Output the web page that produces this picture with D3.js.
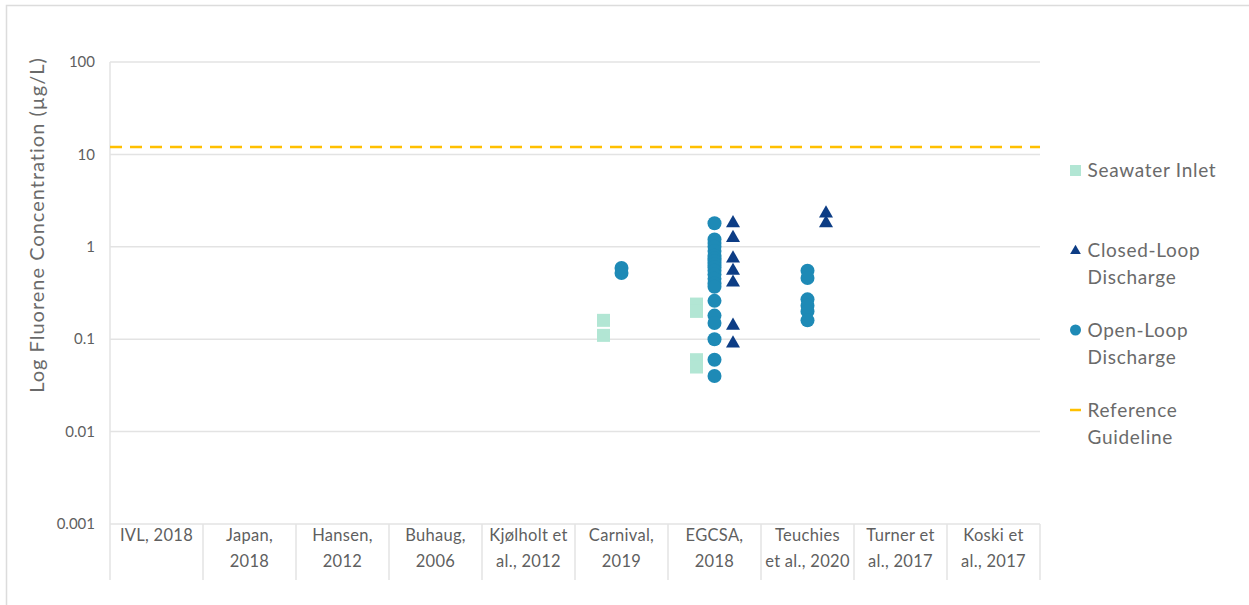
<!DOCTYPE html>
<html>
<head>
<meta charset="utf-8">
<script src="https://cdn.jsdelivr.net/npm/d3@7"></script>
<style>
  html, body { margin: 0; padding: 0; background: #fff; }
  svg { display: block; font-family: Lato, "Noto Sans", sans-serif; }
</style>
</head>
<body>
<svg id="chart"></svg>
<script>
// categories (studies) and their two-line labels
const categories = ["IVL, 2018", "Japan, 2018", "Hansen, 2012", "Buhaug, 2006", "Kjølholt et al., 2012",
  "Carnival, 2019", "EGCSA, 2018", "Teuchies et al., 2020", "Turner et al., 2017", "Koski et al., 2017"];
const categoryLabels = [["IVL, 2018"], ["Japan,", "2018"], ["Hansen,", "2012"], ["Buhaug,", "2006"],
  ["Kjølholt et", "al., 2012"], ["Carnival,", "2019"], ["EGCSA,", "2018"], ["Teuchies", "et al., 2020"],
  ["Turner et", "al., 2017"], ["Koski et", "al., 2017"]];

const yTicks = [0.001, 0.01, 0.1, 1, 10, 100];
const yTickLabels = ["0.001", "0.01", "0.1", "1", "10", "100"];

// measured values (µg/L)
const seawaterInlet = [
  ["Carnival, 2019", 0.16], ["Carnival, 2019", 0.11],
  ["EGCSA, 2018", 0.24], ["EGCSA, 2018", 0.2], ["EGCSA, 2018", 0.06], ["EGCSA, 2018", 0.05]
];
const closedLoop = [
  ["EGCSA, 2018", 1.8], ["EGCSA, 2018", 1.25], ["EGCSA, 2018", 0.75], ["EGCSA, 2018", 0.55],
  ["EGCSA, 2018", 0.41], ["EGCSA, 2018", 0.14], ["EGCSA, 2018", 0.09],
  ["Teuchies et al., 2020", 2.3], ["Teuchies et al., 2020", 1.8]
];
const openLoop = [
  ["Carnival, 2019", 0.59], ["Carnival, 2019", 0.52],
  ["EGCSA, 2018", 1.8], ["EGCSA, 2018", 1.2], ["EGCSA, 2018", 1.1], ["EGCSA, 2018", 1.0],
  ["EGCSA, 2018", 0.9], ["EGCSA, 2018", 0.8], ["EGCSA, 2018", 0.75], ["EGCSA, 2018", 0.7],
  ["EGCSA, 2018", 0.65], ["EGCSA, 2018", 0.6], ["EGCSA, 2018", 0.55], ["EGCSA, 2018", 0.5],
  ["EGCSA, 2018", 0.45], ["EGCSA, 2018", 0.4], ["EGCSA, 2018", 0.37], ["EGCSA, 2018", 0.26],
  ["EGCSA, 2018", 0.18], ["EGCSA, 2018", 0.15], ["EGCSA, 2018", 0.1], ["EGCSA, 2018", 0.06],
  ["EGCSA, 2018", 0.04],
  ["Teuchies et al., 2020", 0.55], ["Teuchies et al., 2020", 0.46], ["Teuchies et al., 2020", 0.27],
  ["Teuchies et al., 2020", 0.23], ["Teuchies et al., 2020", 0.2], ["Teuchies et al., 2020", 0.16]
];
const referenceGuideline = 12;

const legendItems = [
  { key: "seawater", lines: ["Seawater Inlet"] },
  { key: "closed", lines: ["Closed-Loop", "Discharge"] },
  { key: "open", lines: ["Open-Loop", "Discharge"] },
  { key: "ref", lines: ["Reference", "Guideline"] }
];

const colors = { seawater: "#b2e6d4", closed: "#0d3d85", open: "#1e8ab6", ref: "#ffc000" };

const width = 1249, height = 605;
const svg = d3.select("#chart").attr("width", width).attr("height", height);

// outer frame
svg.append("rect")
  .attr("x", 6.5).attr("y", 5.5)
  .attr("width", width).attr("height", height)
  .attr("fill", "none").attr("stroke", "#dcdcdc").attr("stroke-width", 1.5);

const x = d3.scaleBand().domain(categories).range([110, 1040]).padding(0);
const y = d3.scaleLog().domain([0.001, 100]).range([524, 62]);

const gridColor = "#e3e3e3";
const textColor = "#5f5f5f";

// horizontal gridlines
svg.append("g").selectAll("line")
  .data(yTicks)
  .join("line")
  .attr("x1", 110).attr("x2", 1040)
  .attr("y1", d => y(d)).attr("y2", d => y(d))
  .attr("stroke", gridColor).attr("stroke-width", 1.5);

// left axis line
svg.append("line")
  .attr("x1", 110).attr("x2", 110)
  .attr("y1", y(100)).attr("y2", 580)
  .attr("stroke", gridColor).attr("stroke-width", 1.5);

// category dividers under the axis
svg.append("g").selectAll("line")
  .data(categories.slice(1).map(c => x(c)).concat([1040]))
  .join("line")
  .attr("x1", d => d).attr("x2", d => d)
  .attr("y1", 524).attr("y2", 580)
  .attr("stroke", gridColor).attr("stroke-width", 1.5);

// y tick labels
svg.append("g").selectAll("text")
  .data(yTicks)
  .join("text")
  .attr("x", 95).attr("y", d => y(d))
  .attr("dy", "0.35em")
  .attr("text-anchor", "end")
  .attr("font-size", 15)
  .attr("fill", textColor)
  .text((d, i) => yTickLabels[i]);

// category labels
const catG = svg.append("g").selectAll("text")
  .data(categories)
  .join("text")
  .attr("text-anchor", "middle")
  .attr("font-size", 16.5)
  .attr("letter-spacing", 0.3)
  .attr("fill", textColor);
catG.selectAll("tspan")
  .data((d, i) => categoryLabels[i].map(l => ({ l, c: d })))
  .join("tspan")
  .attr("x", d => x(d.c) + x.bandwidth() / 2)
  .attr("y", (d, i) => 541 + i * 26)
  .text(d => d.l);

// y axis title
svg.append("text")
  .attr("transform", "translate(44,225) rotate(-90)")
  .attr("text-anchor", "middle")
  .attr("font-size", 20)
  .attr("letter-spacing", 1)
  .attr("fill", "#6a6a6a")
  .text("Log Fluorene Concentration (µg/L)");

// reference guideline
svg.append("line")
  .attr("x1", 110).attr("x2", 1040)
  .attr("y1", y(referenceGuideline)).attr("y2", y(referenceGuideline))
  .attr("stroke", colors.ref).attr("stroke-width", 2.5)
  .attr("stroke-dasharray", "12,8");

const mid = c => x(c) + x.bandwidth() / 2;

// seawater inlet squares
svg.append("g").selectAll("rect")
  .data(seawaterInlet)
  .join("rect")
  .attr("x", d => mid(d[0]) - 18 - 6.5)
  .attr("y", d => y(d[1]) - 6.5)
  .attr("width", 13).attr("height", 13)
  .attr("fill", colors.seawater);

// open loop circles
svg.append("g").selectAll("circle")
  .data(openLoop)
  .join("circle")
  .attr("cx", d => mid(d[0]))
  .attr("cy", d => y(d[1]))
  .attr("r", 7)
  .attr("fill", colors.open);

// closed loop triangles
const tri = d3.symbol().type(d3.symbolTriangle).size(85);
svg.append("g").selectAll("path")
  .data(closedLoop)
  .join("path")
  .attr("d", tri)
  .attr("transform", d => `translate(${mid(d[0]) + 18.5},${y(d[1])})`)
  .attr("fill", colors.closed);

// legend
const legendY = [170, 250, 330, 410];
const lg = svg.append("g").selectAll("g")
  .data(legendItems)
  .join("g")
  .attr("transform", (d, i) => `translate(1075.5,${legendY[i]})`);

lg.each(function (d) {
  const g = d3.select(this);
  if (d.key === "seawater") {
    g.append("rect").attr("x", -5.5).attr("y", -5).attr("width", 11).attr("height", 11).attr("fill", colors.seawater);
  } else if (d.key === "closed") {
    g.append("path").attr("d", d3.symbol().type(d3.symbolTriangle).size(50)).attr("transform", "translate(0,1)").attr("fill", colors.closed);
  } else if (d.key === "open") {
    g.append("circle").attr("r", 5.5).attr("fill", colors.open);
  } else {
    g.append("line").attr("x1", -5.5).attr("x2", 5.5).attr("y1", 0).attr("y2", 0)
      .attr("stroke", colors.ref).attr("stroke-width", 2.5);
  }
  g.append("text")
    .attr("font-size", 19)
    .attr("letter-spacing", 0.7)
    .attr("fill", "#6a6a6a")
    .selectAll("tspan")
    .data(d.lines)
    .join("tspan")
    .attr("x", 12)
    .attr("y", (l, i) => i * 27)
    .attr("dy", "0.35em")
    .text(l => l);
});
</script>
</body>
</html>
